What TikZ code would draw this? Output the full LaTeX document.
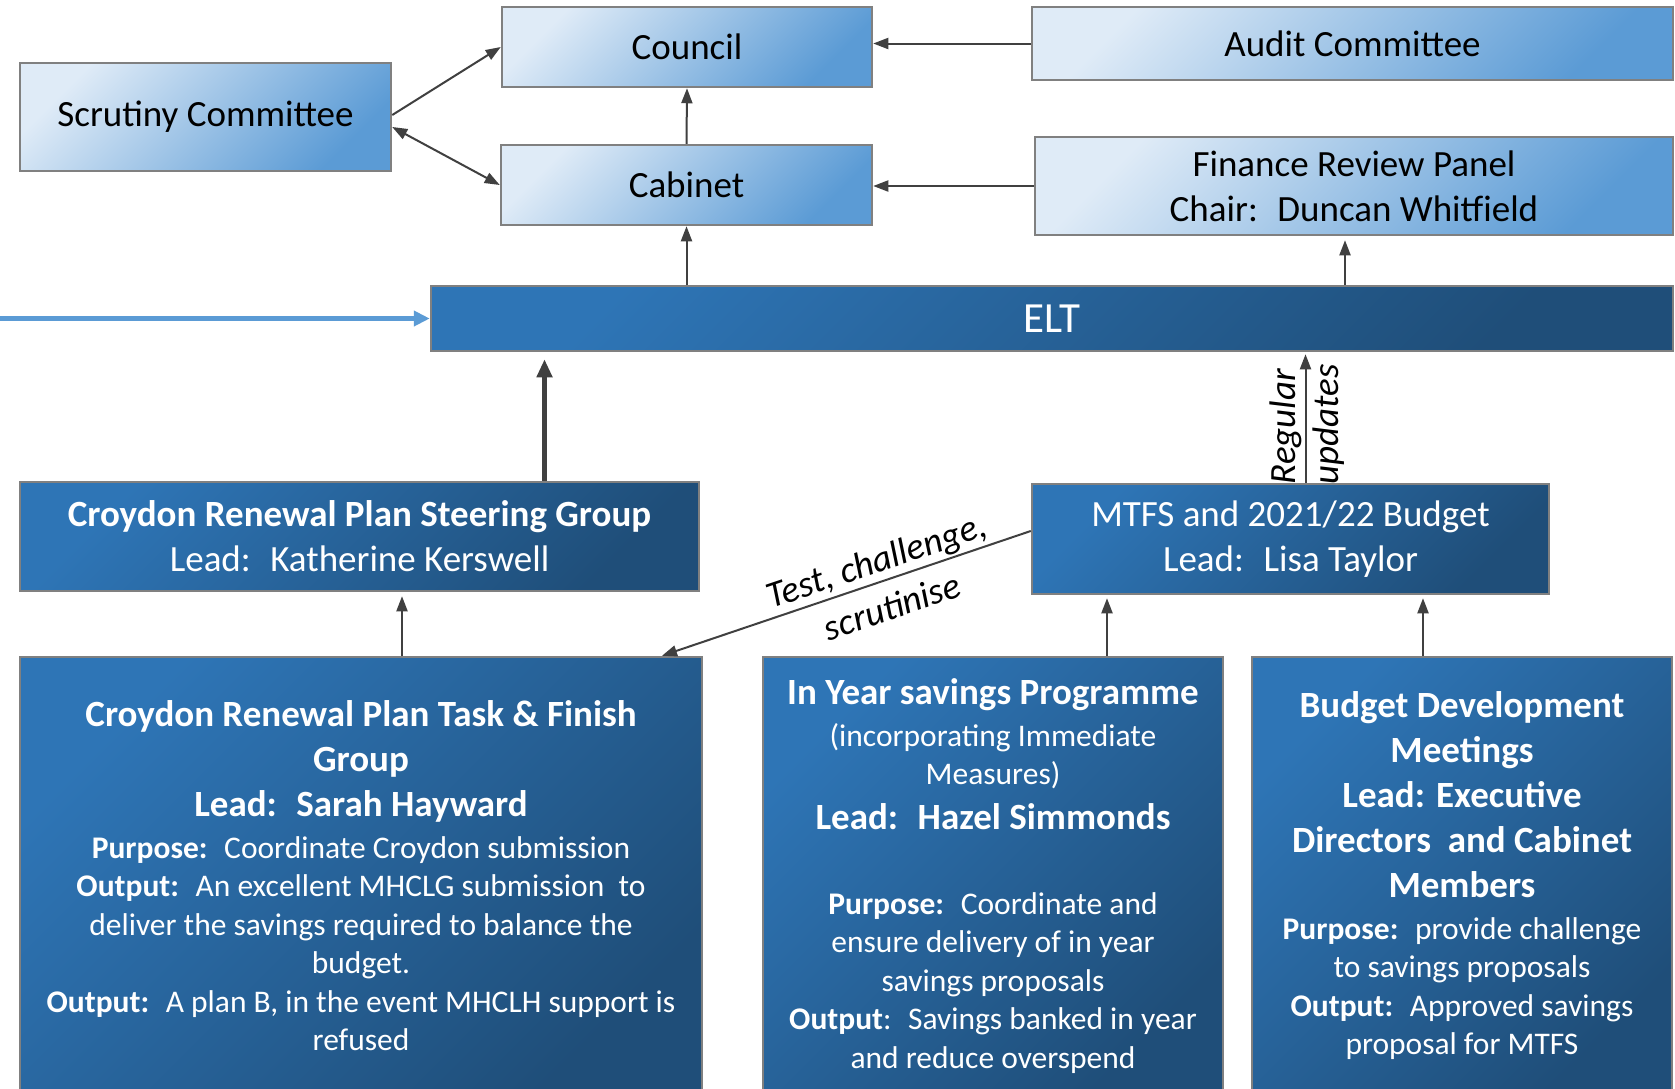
\documentclass[tikz,border=0pt]{standalone}
\usepackage{fontspec}
\setmainfont{Carlito}
\usetikzlibrary{arrows.meta}

\definecolor{paleblue}{HTML}{DFEBF7}
\definecolor{skyblue}{HTML}{5B9BD5}
\definecolor{deepblue}{HTML}{2E75B6}
\definecolor{navyblue}{HTML}{1F4E79}
\definecolor{boxedge}{HTML}{808080}
\definecolor{arrowgrey}{HTML}{404040}

\newcommand{\bigtext}{\fontsize{37}{45}\selectfont}
\newcommand{\smalltext}{\fontsize{31.5}{38.5}\selectfont}

\begin{document}
\begin{tikzpicture}[x=1pt, y=-1pt,
    lightbox/.style={draw=boxedge, line width=2.5pt, top color=paleblue, bottom color=skyblue, shading angle=45, align=flush center, inner sep=0pt, font=\bigtext},
    darkbox/.style={draw=boxedge, line width=2.5pt, top color=deepblue, bottom color=navyblue, shading angle=45, text=white, align=flush center, inner sep=0pt, font=\bigtext},
    link/.style={draw=arrowgrey, line width=2pt, -{Triangle[length=15pt, width=11pt]}},
    backlink/.style={draw=arrowgrey, line width=2pt, {Triangle[length=15pt, width=11pt]}-},
    bothlink/.style={draw=arrowgrey, line width=2pt, {Triangle[length=15pt, width=11pt]}-{Triangle[length=15pt, width=11pt]}},
    bigarrow/.style={draw=arrowgrey, line width=4.5pt, -{Triangle[length=18pt, width=15pt]}, shorten >=7pt},
    feedarrow/.style={draw=skyblue, line width=4.5pt, -{Triangle[length=16pt, width=15pt]}},
    remark/.style={font=\fontsize{37}{42}\selectfont\itshape, sloped, inner sep=1pt}]

    \path[use as bounding box, fill=white] (0,0) rectangle (1675,1088);

    % Governance boxes
    \node[lightbox, minimum width=371, minimum height=108] (scrut) at (205.5,117) {Scrutiny Committee};
    \node[lightbox, minimum width=370, minimum height=80] (council) at (687,47) {Council};
    \node[lightbox, minimum width=371, minimum height=80] (cabinet) at (686.5,185) {Cabinet};
    \node[lightbox, minimum width=641, minimum height=73] (audit) at (1352.5,43.5) {Audit Committee};
    \node[lightbox, minimum width=638, minimum height=98] (finance) at (1354,186) {Finance Review Panel\\ Chair:~ Duncan Whitfield};

    % ELT bar
    \node[darkbox, minimum width=1242, minimum height=65, font=\fontsize{43}{50}\selectfont] (elt) at (1052,318.5) {ELT};
    \coordinate (feed) at (0,318.5);

    % Steering and budget
    \node[darkbox, minimum width=679, minimum height=109] (steer) at (359.5,536.5) {\textbf{Croydon Renewal Plan Steering Group}\\ Lead:~ Katherine Kerswell};
    \node[darkbox, minimum width=517, minimum height=110] (mtfs) at (1290.5,539) {MTFS and 2021/22 Budget\\ Lead:~ Lisa Taylor};

    % Working groups
    \node[darkbox, minimum width=682, minimum height=438, text width=678] (task) at (361,876) {%
      {\bfseries Croydon Renewal Plan Task \& Finish\\ Group\\ Lead:~ Sarah Hayward\par}
      {\smalltext\vspace{3pt}\textbf{Purpose:}~ Coordinate Croydon submission\\
      \textbf{Output:}~ An excellent MHCLG submission~ to\\
      deliver the savings required to balance the\\ budget.\\
      \textbf{Output:}~ A plan B, in the event MHCLH support is\\ refused\par}};
    \node[darkbox, minimum width=460, minimum height=438, text width=456] (inyear) at (993,876) {%
      {\bfseries In Year savings Programme\par}
      {\smalltext\vspace{3pt}(incorporating Immediate\\ Measures)\par}
      {\bfseries Lead:~ Hazel Simmonds\par}
      {\smalltext\vspace{46pt}\textbf{Purpose:}~ Coordinate and\\ ensure delivery of in year\\ savings proposals\\
      \textbf{Output}:~ Savings banked in year\\ and reduce overspend\par}};
    \node[darkbox, minimum width=420, minimum height=438, text width=416] (budget) at (1462,876) {%
      {\bfseries Budget Development\\ Meetings\\ Lead: Executive\\ Directors~ and Cabinet\\ Members\par}
      {\smalltext\vspace{3pt}\textbf{Purpose:}~ provide challenge\\ to savings proposals\\
      \textbf{Output:}~ Approved savings\\ proposal for MTFS\par}};

    % Connectors
    \draw[link] ([yshift=2pt]scrut.east) -- (council.west);
    \draw[bothlink] ([yshift=-10pt]scrut.east) -- (cabinet.west);
    \draw[link] (cabinet.north) -- (council.south);
    \draw[link] (audit.west) -- (council.east |- audit.west);
    \draw[link] (finance.west) -- (cabinet.east |- finance.west);
    \draw[link] (cabinet.south |- elt.north) -- (cabinet.south);
    \draw[link, shorten >=4pt] ([xshift=-9pt]finance.south |- elt.north) -- ([xshift=-9pt]finance.south);
    \draw[feedarrow] (feed) -- (elt.west);
    \draw[bigarrow] ([xshift=185pt]steer.north) -- ([xshift=185pt]steer.north |- elt.south);
    \draw[link, shorten >=2pt] ([xshift=15pt]mtfs.north) -- ([xshift=15pt]mtfs.north |- elt.south)
        node[remark, pos=0.43, above=2pt] (regular) {Regular}
        node[remark, pos=0.45, below=5pt] (updates) {updates};
    \draw[link, shorten >=4pt] ([xshift=41pt]task.north) -- ([xshift=41pt]task.north |- steer.south);
    \draw[link, shorten >=3pt] ([xshift=114pt]inyear.north) -- ([xshift=114pt]inyear.north |- mtfs.south);
    \draw[link, shorten >=3pt] ([xshift=-39pt]budget.north) -- ([xshift=-39pt]budget.north |- mtfs.south);
    \draw[backlink] ([xshift=301pt]task.north) -- ([yshift=8pt]mtfs.west)
        node[remark, pos=0.6, above=1pt] (testing) {Test, challenge,}
        node[remark, pos=0.6, below=12pt] (scrutinise) {scrutinise};
\end{tikzpicture}
\end{document}
